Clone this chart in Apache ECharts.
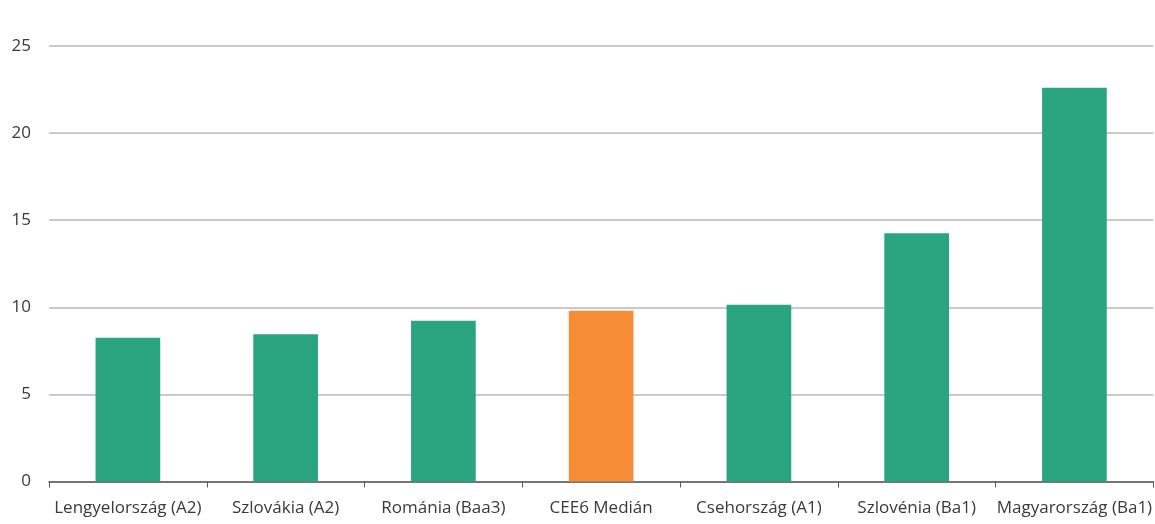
<!DOCTYPE html>
<html>
<head>
<meta charset="utf-8">
<script src="https://cdn.jsdelivr.net/npm/echarts@6/dist/echarts.min.js"></script>
<style>
html,body{margin:0;padding:0;background:#fff;}
#c{width:1155px;height:524px;}
</style>
</head>
<body>
<div id="c"></div>
<script>
const categories = ['Lengyelország (A2)', 'Szlovákia (A2)', 'Románia (Baa3)', 'CEE6 Medián', 'Csehország (A1)', 'Szlovénia (Ba1)', 'Magyarország (Ba1)'];
const values = [8.25, 8.45, 9.23, 9.8, 10.15, 14.25, 22.6];
const highlight = 'CEE6 Medián';
const yTicks = [0, 5, 10, 15, 20, 25];

const font = '"Open Sans", "Liberation Sans", sans-serif';
const chart = echarts.init(document.getElementById('c'), null, {renderer: 'canvas'});
chart.setOption({
  animation: false,
  grid: {left: 49, right: 0, top: 46, bottom: 42.5, containLabel: false},
  xAxis: {
    type: 'category',
    data: categories,
    axisLine: {show: true, lineStyle: {color: '#5a5a5a', width: 1.5}},
    axisTick: {show: true, length: 6, inside: false, lineStyle: {color: '#5a5a5a'}},
    axisLabel: {color: '#3a3a3a', fontSize: 17, fontFamily: font, margin: 18, interval: 0}
  },
  yAxis: {
    type: 'value',
    min: yTicks[0],
    max: yTicks[yTicks.length - 1],
    interval: 5,
    axisLine: {show: false},
    axisTick: {show: false},
    splitLine: {lineStyle: {color: '#b8b8b8', width: 1.5}},
    axisLabel: {color: '#3a3a3a', fontSize: 17, fontFamily: font, margin: 18}
  },
  series: [{
    type: 'bar',
    barWidth: '41%',
    data: values.map((v, i) => ({
      value: v,
      itemStyle: {color: categories[i] === highlight ? '#f68c35' : '#2aa580'}
    }))
  }]
});
</script>
</body>
</html>
